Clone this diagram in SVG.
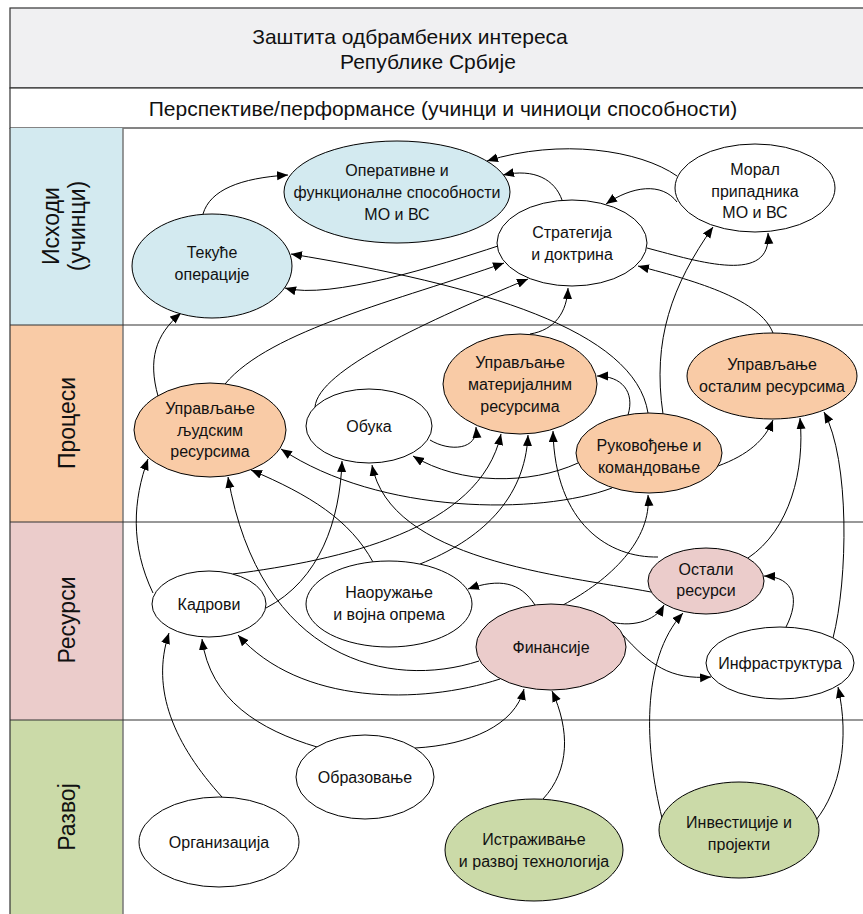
<svg xmlns="http://www.w3.org/2000/svg" width="863" height="914" viewBox="0 0 863 914">
<defs>
<marker id="ah" markerUnits="userSpaceOnUse" markerWidth="12" markerHeight="10" refX="11" refY="4.5" orient="auto">
<path d="M0,0 L11,4.5 L0,9 z" fill="#000"/>
</marker>
<style>
text{font-family:"Liberation Sans",Arial,sans-serif;fill:#111;text-anchor:middle}
.hd{font-size:21px}
.ln{font-size:23px}
.nt{font-size:16px}
.n{stroke:#000;stroke-width:1}
.w{fill:#fff}.b{fill:#d3eaf0}.o{fill:#f9cba6}.p{fill:#ebcccb}.g{fill:#cbdaa8}
.c path{fill:none;stroke:#000;stroke-width:1;marker-end:url(#ah)}
.fr{stroke:#333;stroke-width:1.2}
</style>
</defs>
<rect x="0" y="0" width="863" height="914" fill="#fff"/>
<g id="frame">
<rect x="10" y="8" width="860" height="80" fill="#f0f0f2" class="fr"/>
<rect x="10" y="88" width="860" height="40" fill="#fff" class="fr"/>
<rect x="10" y="128" width="113" height="197" class="b"/>
<rect x="10" y="325" width="113" height="197" class="o"/>
<rect x="10" y="522" width="113" height="198" class="p"/>
<rect x="10" y="720" width="113" height="194" class="g"/>
<line x1="10" y1="128" x2="10" y2="914" class="fr"/>
<line x1="123" y1="128" x2="123" y2="914" stroke="#777" stroke-width="1.5"/>
<line x1="10" y1="325" x2="863" y2="325" class="fr"/>
<line x1="10" y1="522" x2="863" y2="522" class="fr"/>
<line x1="10" y1="720" x2="863" y2="720" class="fr"/>
<text class="hd" x="410" y="44">Заштита одбрамбених интереса</text>
<text class="hd" x="428" y="69">Републике Србије</text>
<text class="hd" x="443" y="116">Перспективе/перформансе (учинци и чиниоци способности)</text>
<g transform="rotate(-90 67 226)"><text class="ln" x="67" y="218">Исходи</text><text class="ln" x="67" y="244">(учинци)</text></g>
<text class="ln" x="67" y="431" transform="rotate(-90 67 423)">Процеси</text>
<text class="ln" x="67" y="628" transform="rotate(-90 67 620)">Ресурси</text>
<text class="ln" x="67" y="825" transform="rotate(-90 67 817)">Развој</text>
</g>
<g id="connectors" class="c">
<path d="M203,214 C210,190 240,178 288,175"/>
<path d="M562,200 C555,180 535,168 503,175"/>
<path d="M677,176 C640,150 560,138 487,161"/>
<path d="M677,202 C662,182 632,186 606,204"/>
<path d="M647,248 C700,262 772,285 768,233"/>
<path d="M663,414 C652,340 672,285 713,227"/>
<path d="M773,333 C760,300 700,282 638,266"/>
<path d="M498,246 C440,265 330,300 285,288"/>
<path d="M648,413 C635,330 480,285 291,254"/>
<path d="M158,396 C148,360 155,335 181,313"/>
<path d="M225,384 C270,330 400,300 504,263"/>
<path d="M315,407 C318,370 430,320 528,279"/>
<path d="M530,334 C555,330 567,312 568,288"/>
<path d="M430,440 C450,452 478,450 476,427"/>
<path d="M628,415 C635,392 622,376 597,376"/>
<path d="M578,463 C530,485 460,485 413,456"/>
<path d="M612,488 C540,515 380,515 281,449"/>
<path d="M718,466 C748,455 765,440 773,420"/>
<path d="M748,558 C790,530 805,470 800,418"/>
<path d="M833,638 C848,580 850,460 824,412"/>
<path d="M563,605 C610,580 652,540 648,495"/>
<path d="M658,557 C610,558 555,525 553,431"/>
<path d="M651,592 C560,575 390,560 372,465"/>
<path d="M420,564 C480,540 525,500 528,435"/>
<path d="M233,574 C340,560 480,530 501,434"/>
<path d="M266,608 C320,580 340,520 342,461"/>
<path d="M373,562 C350,520 310,495 251,470"/>
<path d="M479,661 C390,690 260,660 228,477"/>
<path d="M500,679 C420,705 300,705 238,635"/>
<path d="M153,593 C130,545 133,500 148,459"/>
<path d="M222,797 C175,745 150,690 169,633"/>
<path d="M317,747 C260,730 210,700 202,639"/>
<path d="M535,605 C520,582 500,578 468,589"/>
<path d="M608,621 C630,628 655,622 664,605"/>
<path d="M622,634 C650,665 670,680 711,677"/>
<path d="M786,627 C800,600 795,577 764,576"/>
<path d="M662,818 C645,750 640,660 683,613"/>
<path d="M816,820 C840,790 850,740 838,687"/>
<path d="M543,799 C570,770 570,730 552,691"/>
<path d="M415,748 C470,745 515,725 524,689"/>
</g>
<g id="op"><ellipse class="n b" cx="397" cy="192" rx="113" ry="51"/><text class="nt" x="397" y="176">Оперативне и</text><text class="nt" x="397" y="198">функционалне способности</text><text class="nt" x="397" y="220">МО и ВС</text></g>
<g id="tek"><ellipse class="n b" cx="212" cy="266" rx="80" ry="52"/><text class="nt" x="212" y="258">Текуће</text><text class="nt" x="212" y="280">операције</text></g>
<g id="str"><ellipse class="n w" cx="572" cy="243" rx="75" ry="43"/><text class="nt" x="572" y="238">Стратегија</text><text class="nt" x="572" y="260">и доктрина</text></g>
<g id="mor"><ellipse class="n w" cx="755" cy="188" rx="80" ry="44"/><text class="nt" x="755" y="175">Морал</text><text class="nt" x="755" y="197">припадника</text><text class="nt" x="755" y="218">МО и ВС</text></g>
<g id="ulj"><ellipse class="n o" cx="210" cy="430" rx="76" ry="47"/><text class="nt" x="210" y="414">Управљање</text><text class="nt" x="210" y="436">људским</text><text class="nt" x="210" y="457">ресурсима</text></g>
<g id="obu"><ellipse class="n w" cx="369" cy="426" rx="63" ry="37"/><text class="nt" x="369" y="432">Обука</text></g>
<g id="umat"><ellipse class="n o" cx="520" cy="384" rx="77" ry="50"/><text class="nt" x="520" y="368">Управљање</text><text class="nt" x="520" y="390">материјалним</text><text class="nt" x="520" y="412">ресурсима</text></g>
<g id="ruk"><ellipse class="n o" cx="649" cy="453" rx="73" ry="40"/><text class="nt" x="649" y="451">Руковођење и</text><text class="nt" x="649" y="473">командовање</text></g>
<g id="uost"><ellipse class="n o" cx="772" cy="376" rx="85" ry="43"/><text class="nt" x="772" y="370">Управљање</text><text class="nt" x="772" y="392">осталим ресурсима</text></g>
<g id="kad"><ellipse class="n w" cx="209" cy="604" rx="57" ry="33"/><text class="nt" x="209" y="610">Кадрови</text></g>
<g id="nao"><ellipse class="n w" cx="389" cy="604" rx="83" ry="43"/><text class="nt" x="389" y="598">Наоружање</text><text class="nt" x="389" y="620">и војна опрема</text></g>
<g id="fin"><ellipse class="n p" cx="551" cy="647" rx="75" ry="43"/><text class="nt" x="551" y="653">Финансије</text></g>
<g id="osr"><ellipse class="n p" cx="706" cy="581" rx="58" ry="33"/><text class="nt" x="706" y="575">Остали</text><text class="nt" x="706" y="596">ресурси</text></g>
<g id="inf"><ellipse class="n w" cx="780" cy="663" rx="74" ry="36"/><text class="nt" x="780" y="669">Инфраструктура</text></g>
<g id="obr"><ellipse class="n w" cx="365" cy="777" rx="69" ry="42"/><text class="nt" x="365" y="783">Образовање</text></g>
<g id="org"><ellipse class="n w" cx="219" cy="842" rx="80" ry="45"/><text class="nt" x="219" y="848">Организација</text></g>
<g id="ist"><ellipse class="n g" cx="534" cy="850" rx="89" ry="51"/><text class="nt" x="534" y="845">Истраживање</text><text class="nt" x="534" y="867">и развој технологија</text></g>
<g id="inv"><ellipse class="n g" cx="739" cy="830" rx="80" ry="48"/><text class="nt" x="739" y="828">Инвестиције и</text><text class="nt" x="739" y="850">пројекти</text></g>
</svg>
